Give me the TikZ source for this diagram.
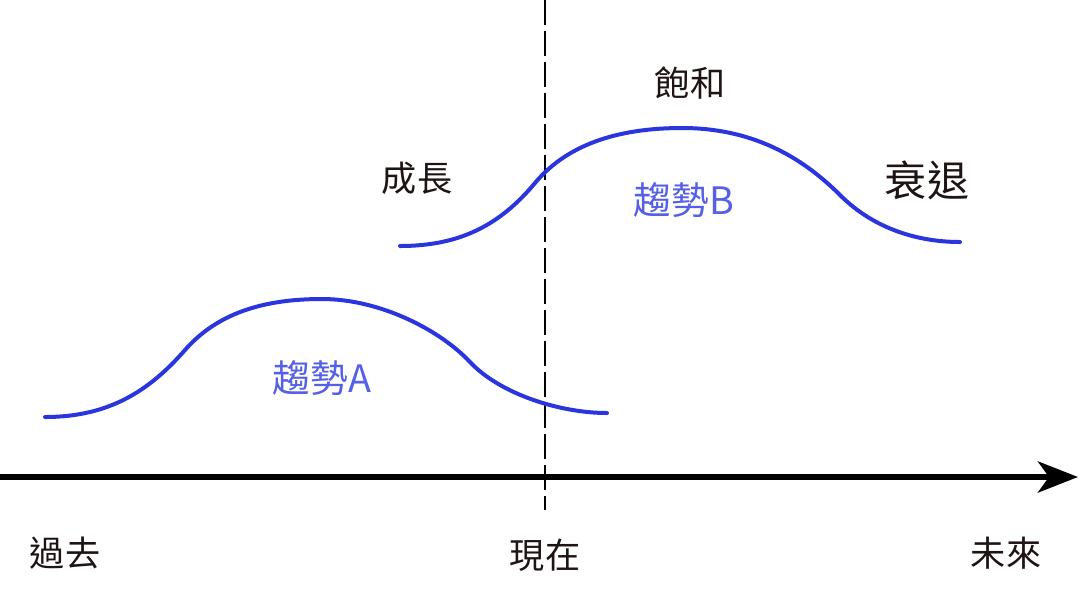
\documentclass[tikz,border=0pt]{standalone}
\usepackage{fontspec}
\newfontfamily\cjk{Noto Sans CJK TC}
\usetikzlibrary{arrows.meta}
\usepackage{xcolor}
\definecolor{trendline}{HTML}{2A35DE}
\definecolor{trendtext}{HTML}{5560E6}
\definecolor{labeltext}{HTML}{1E1414}

\begin{document}
\begin{tikzpicture}
    [x=0.02cm, y=-0.02cm,
     >={Stealth[length=0.8cm, width=0.62cm, inset=0.22cm]},  % axis arrow
     phase/.style={text=labeltext, font=\cjk\fontsize{20}{24}\selectfont, inner sep=0pt},
     trendlabel/.style={text=trendtext, font=\cjk\fontsize{21.5}{26}\selectfont, inner sep=0pt},
     trend/.style={draw=trendline, line width=0.08cm, line cap=round},
    ]
\useasboundingbox (0,0) rectangle (1080,600);

% time axis
\coordinate (axis_start) at (0,477);
\coordinate (axis_end) at (1078,477);
\draw[->, line width=0.12cm] (axis_start) -- (axis_end);

% now marker
\coordinate (now_top) at (545,0);
\coordinate (now_bottom) at (545,510);
\draw[line width=0.035cm, dash pattern=on 0.5cm off 0.12cm] (now_top) -- (now_bottom);

% trends
\draw[trend] (45,417) .. controls (110,417) and (150,390) .. (185,350)
    .. controls (220,310) and (270,299) .. (322,299)
    .. controls (380,299) and (440,330) .. (470,362)
    .. controls (500,394) and (560,413) .. (607,413);
\draw[trend] (400,246) .. controls (460,246) and (500,225) .. (535,183)
    .. controls (570,141) and (625,128) .. (682,128)
    .. controls (750,128) and (800,155) .. (840,195)
    .. controls (875,230) and (920,242) .. (960,242);

\node[trendlabel] (trend_a) at (322,378) {趨勢A};
\node[trendlabel] (trend_b) at (684,200) {趨勢B};

\node[phase] (growth) at (417,178) {成長};
\node[phase] (saturation) at (690,83) {飽和};
\node[phase, font=\cjk\fontsize{24}{28}\selectfont] (decline) at (927,180) {衰退};

\node[phase] (past) at (65,553) {過去};
\node[phase] (present) at (545,555) {現在};
\node[phase] (future) at (1006,553) {未來};

\end{tikzpicture}
\end{document}
